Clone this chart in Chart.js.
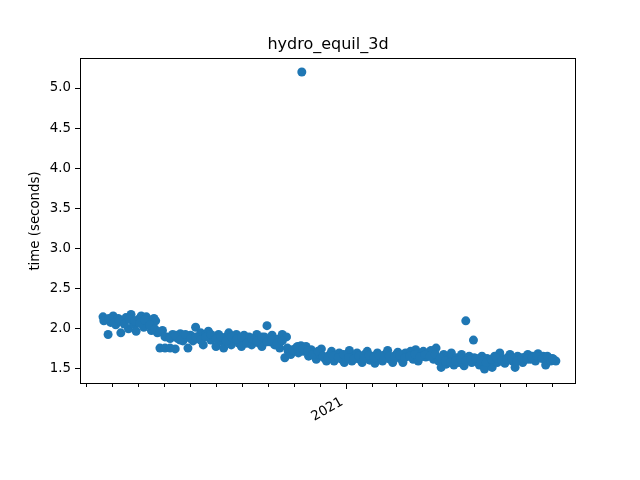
<!DOCTYPE html>
<html>
<head>
<meta charset="utf-8">
<script src="https://cdn.jsdelivr.net/npm/chart.js@4/dist/chart.umd.min.js"></script>
<style>
html, body { margin: 0; padding: 0; background: #fff; }
#wrap { width: 640px; height: 480px; }
</style>
</head>
<body>
<div id="wrap"><canvas id="grafico" width="640" height="480"></canvas></div>
<script>
/* ============================= */
/* DATOS */
/* ============================= */

// dias contados desde 2020-03-01
const startDate = "2020-03-01";

const days = [
20,23,26,29,32,35,38,41,44,47,
50,53,56,59,62,65,68,71,74,77,
80,82,84,87,90,93,96,99,102,105,
108,111,114,117,120,123,126,129,132,135,
138,141,144,147,150,153,156,159,162,165,
168,171,174,177,180,183,186,189,192,195,
198,201,204,207,210,213,216,219,222,225,
228,231,234,236,238,241,244,247,250,253,
254,256,259,262,265,268,271,274,277,280,
283,286,289,292,295,298,301,304,307,310,
313,316,319,322,325,328,331,334,337,340,
343,346,349,352,355,358,361,364,367,370,
373,376,379,382,385,388,391,394,397,400,
403,406,409,412,415,418,421,424,427,430,
433,436,439,442,445,447,448,451,454,456,
457,460,463,466,469,472,475,478,481,484,
487,490,493,496,499,502,505,508,511,514,
517,520,523,526,529,532,535,538,541,544,
547,550,553
];

const times = [
2.15,2.12,1.93,2.08,2.16,2.05,2.13,1.95,2.10,2.14,
2.00,2.18,2.06,1.97,2.12,2.16,2.02,2.15,2.08,1.98,
2.13,2.10,1.95,1.76,1.98,1.76,1.90,1.76,1.93,1.75,
1.88,1.94,1.85,1.90,1.76,1.92,1.85,2.02,1.88,1.95,
1.80,1.93,1.97,1.86,1.90,1.78,1.93,1.85,1.76,1.90,
1.95,1.80,1.88,1.93,1.82,1.78,1.92,1.85,1.90,1.80,
1.86,1.93,1.82,1.78,1.90,2.04,1.84,1.92,1.80,1.87,
1.76,1.93,1.64,1.90,1.72,1.68,1.73,1.76,1.70,1.79,
5.20,1.72,1.78,1.66,1.74,1.70,1.62,1.68,1.75,1.64,
1.60,1.67,1.72,1.60,1.65,1.70,1.62,1.58,1.68,1.73,
1.60,1.66,1.70,1.62,1.58,1.68,1.72,1.61,1.66,1.57,
1.70,1.64,1.60,1.68,1.73,1.62,1.58,1.67,1.71,1.63,
1.58,1.70,1.66,1.72,1.62,1.74,1.60,1.68,1.72,1.65,
1.70,1.73,1.62,1.76,1.60,1.52,1.68,1.56,1.62,1.70,
1.55,1.64,1.58,1.68,1.54,2.10,1.62,1.66,1.58,1.86,
1.64,1.60,1.55,1.66,1.50,1.63,1.60,1.52,1.66,1.58,
1.70,1.62,1.57,1.64,1.68,1.60,1.52,1.66,1.62,1.58,
1.65,1.68,1.62,1.66,1.60,1.69,1.64,1.66,1.55,1.64,
1.60,1.62,1.60
];

// corridas intermedias (relleno de la banda)
const daysExtra = [
21,27,33,39,45,51,57,63,69,75,81,
87,93,99,105,111,117,123,129,135,141,147,153,159,165,171,177,183,189,195,201,207,213,219,225,231,
237,243,249,255,261,267,273,279,285,291,297,303,309,315,321,327,333,339,345,351,357,363,369,375,381,
387,393,399,405,411,417,423,429,435,441,447,453,459,465,471,477,483,489,495,501,507,513,519,525,531,
537,543,549
];

const timesExtra = [
2.10,2.13,2.08,2.10,2.06,2.12,2.10,2.07,2.11,2.05,2.00,
1.96,1.90,1.88,1.92,1.86,1.93,1.88,1.90,1.86,1.90,1.93,1.88,1.90,1.85,1.90,1.87,1.90,1.82,1.88,1.85,1.90,1.84,1.86,1.82,1.85,
1.76,1.74,1.78,1.75,1.72,1.68,1.72,1.66,1.64,1.66,1.64,1.68,1.64,1.62,1.66,1.63,1.67,1.64,1.67,1.63,1.66,1.64,1.67,1.64,1.66,
1.68,1.65,1.68,1.66,1.68,1.64,1.60,1.58,1.60,1.62,1.60,1.62,1.63,1.60,1.58,1.62,1.64,1.60,1.62,1.64,1.60,1.64,1.62,1.64,1.66,
1.63,1.66,1.63
];

// marcas mensuales del eje x
const monthTicks = [
"2020-03-01","2020-04-01","2020-05-01","2020-06-01","2020-07-01",
"2020-08-01","2020-09-01","2020-10-01","2020-11-01","2020-12-01",
"2021-01-01","2021-02-01","2021-03-01","2021-04-01","2021-05-01",
"2021-06-01","2021-07-01","2021-08-01","2021-09-01"
];
const majorTicks = ["2021-01-01"];
const majorLabels = ["2021"];

const yTicks = [1.5,2.0,2.5,3.0,3.5,4.0,4.5,5.0];

const titulo = "hydro_equil_3d";
const tituloY = "time (seconds)";


/* ============================= */
/* CONVERSION FECHAS */
/* ============================= */

function diaDesdeInicio(fecha){
return (Date.parse(fecha + "T00:00:00Z") - Date.parse(startDate + "T00:00:00Z")) / 86400000;
}

const puntos = days.map((d,i)=>({x:d, y:times[i]}))
.concat(daysExtra.map((d,i)=>({x:d, y:timesExtra[i]})));
const tickDias = monthTicks.map(diaDesdeInicio);
const majorDias = majorTicks.map(diaDesdeInicio);

const fuente = "'DejaVu Sans', sans-serif";


/* ============================= */
/* PLUGIN: MARCO, TITULO Y MARCAS MENORES */
/* ============================= */

const marcoPlugin = {
id:"marco",
afterDraw(chart){
const ctx = chart.ctx;
const a = chart.chartArea;
const sx = chart.scales.x;
ctx.save();
ctx.strokeStyle = "#000";
ctx.lineWidth = 1;
ctx.strokeRect(a.left + 0.5, a.top + 0.5, a.right - a.left - 1, a.bottom - a.top - 1);
tickDias.forEach(d=>{
let px = Math.round(sx.getPixelForValue(d)) + 0.5;
let largo = majorDias.includes(d) ? 5 : 3;
ctx.beginPath();
ctx.moveTo(px, a.bottom);
ctx.lineTo(px, a.bottom + largo);
ctx.stroke();
});
// titulo centrado sobre el area del grafico
ctx.fillStyle = "#000";
ctx.font = "16px " + fuente;
ctx.textAlign = "center";
ctx.textBaseline = "middle";
ctx.fillText(titulo, (a.left + a.right) / 2, 44.5);
ctx.restore();
}
};


/* ============================= */
/* GRAFICO */
/* ============================= */

new Chart(document.getElementById("grafico"), {

type:"scatter",

data:{
datasets:[{
data:puntos,
backgroundColor:"#1f77b4",
borderWidth:0,
pointRadius:4.5,
pointHoverRadius:4.5
}]
},

options:{
responsive:false,
animation:false,
layout:{ padding:{ left:0, right:64, top:58, bottom:0 } },
plugins:{
legend:{ display:false },
tooltip:{ enabled:false },
title:{ display:false }
},
scales:{
x:{
type:"linear",
min:-7.06,
max:576.7,
afterBuildTicks(scale){
scale.ticks = majorDias.map(v=>({value:v}));
},
afterFit(scale){ scale.height = 96; },
grid:{ drawOnChartArea:false, drawTicks:false },
border:{ display:false },
ticks:{
autoSkip:false,
minRotation:30,
maxRotation:30,
padding:10,
labelOffset:-4,
color:"#000",
font:{ family:fuente, size:13.33 },
callback(v){
let i = majorDias.indexOf(v);
return i >= 0 ? majorLabels[i] : "";
}
}
},
y:{
min:1.313,
max:5.374,
afterBuildTicks(scale){
scale.ticks = yTicks.map(v=>({value:v}));
},
afterFit(scale){ scale.width = 80; },
grid:{ drawOnChartArea:false, drawTicks:true, tickLength:5, color:"#000" },
border:{ display:false },
ticks:{
padding:4,
color:"#000",
font:{ family:fuente, size:13.33 },
callback(v){ return v.toFixed(1); }
},
title:{
display:true,
text:tituloY,
color:"#000",
font:{ family:fuente, size:13.33 },
padding:{ top:28, bottom:0 }
}
}
}
},

plugins:[marcoPlugin]

});
</script>
</body>
</html>
